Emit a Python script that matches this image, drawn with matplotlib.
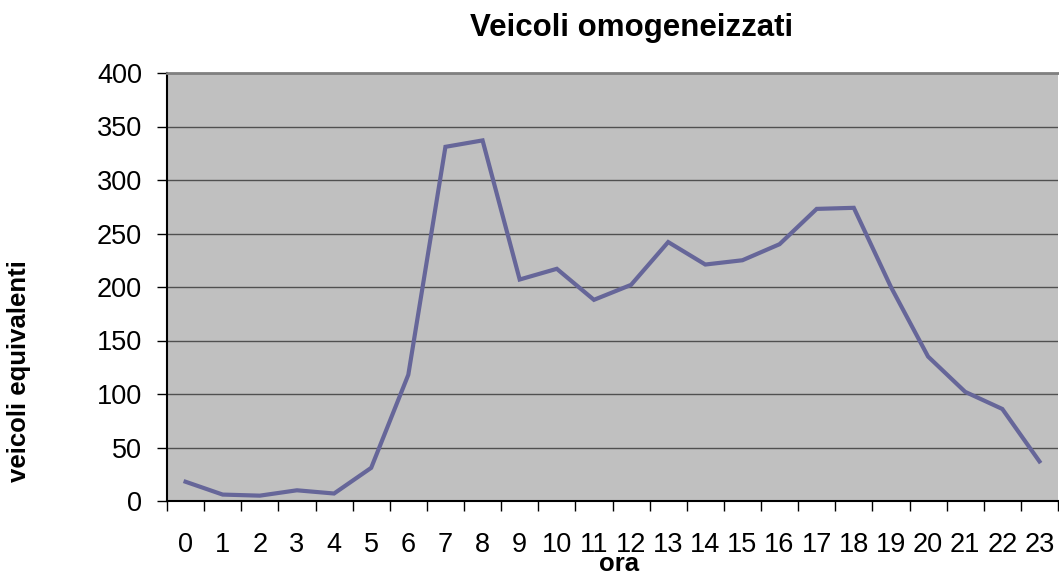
import matplotlib
matplotlib.use("Agg")
import matplotlib.pyplot as plt
import numpy as np

hours = [str(h) for h in range(24)]
values = [18, 6, 5, 10, 7, 31, 118, 331, 337, 207, 217, 188, 202, 242, 221, 225, 240, 273, 274, 200, 135, 102, 86, 37]
y_ticks = [0, 50, 100, 150, 200, 250, 300, 350, 400]

plt.rcParams['font.family'] = ['Liberation Sans', 'DejaVu Sans']

fig = plt.figure(figsize=(10.59, 5.77), dpi=100)
ax = fig.add_axes([167/1059, 76/577, 891/1059, 428/577])
ax.set_facecolor('#C0C0C0')

x = np.arange(len(values))
ax.plot(x, values, color='#666699', lw=3.0, solid_joinstyle='miter', zorder=3)

ax.set_xlim(-0.5, len(values) - 0.5)
ax.set_ylim(0, 400)
ax.set_yticks(y_ticks)
ax.yaxis.grid(True, color='#505050', lw=1.0)
ax.set_axisbelow(True)

# category boundaries as major ticks, labels at centers
ax.set_xticks(np.arange(-0.5, len(values), 1.0))
ax.set_xticklabels([])
ax.set_xticks(x, minor=True)
ax.set_xticklabels(hours, minor=True)
ax.tick_params(axis='x', which='major', length=7, width=1, color='black', direction='out')
ax.tick_params(axis='x', which='minor', length=0, pad=22, labelsize=19.5)
ax.tick_params(axis='y', length=7, width=1, direction='out', pad=11, labelsize=19.5)

for s in ['left', 'bottom']:
    ax.spines[s].set_color('black')
    ax.spines[s].set_linewidth(1.5)
ax.spines['top'].set_color('#808080')
ax.spines['top'].set_linewidth(2)
ax.spines['right'].set_visible(False)

ax.set_xlabel('ora', fontsize=18.5, fontweight='bold', va='baseline')
ax.xaxis.set_label_coords(0.507, -0.1635)
ax.set_ylabel('veicoli equivalenti', fontsize=18.5, fontweight='bold')
ax.yaxis.set_label_coords(-0.153, 0.304)

fig.text(632/1059, 1 - 28/577, 'Veicoli omogeneizzati', fontsize=22.5, fontweight='bold',
         ha='center', va='center')

fig.savefig('out.png', dpi=100)
